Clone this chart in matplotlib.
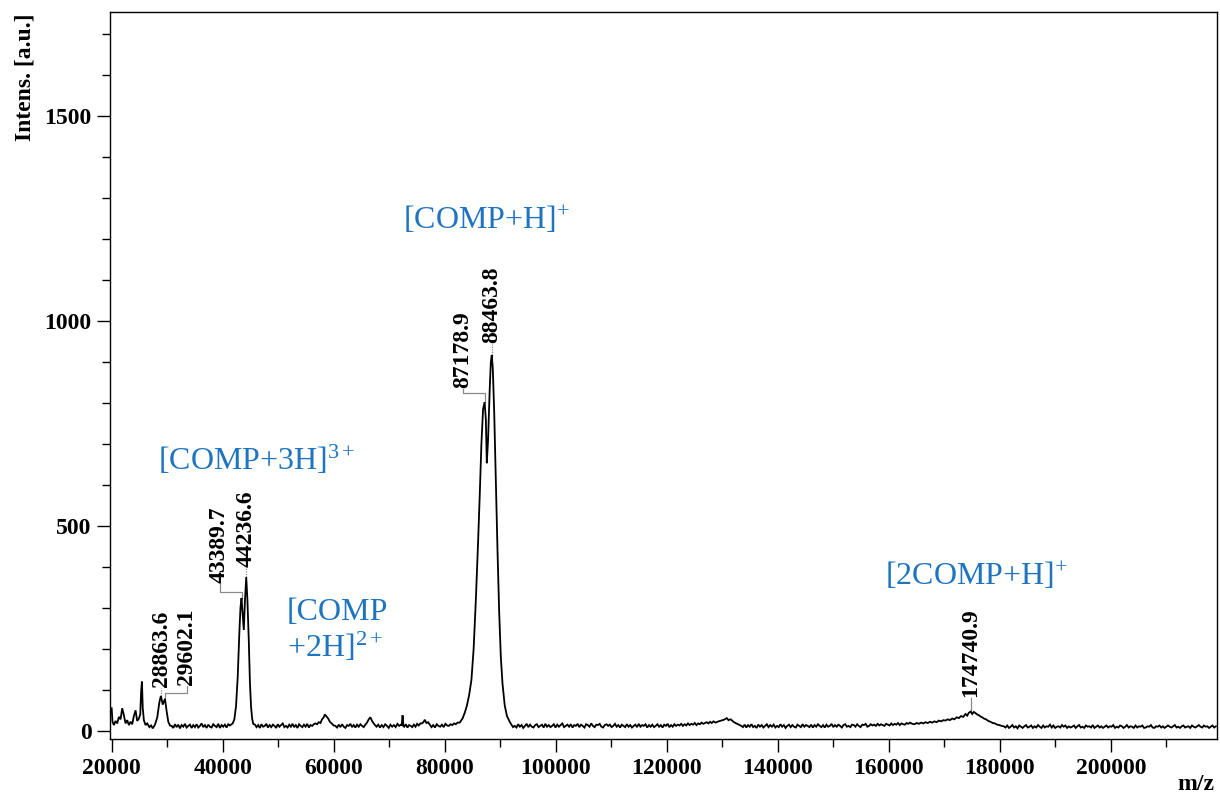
import matplotlib
matplotlib.use('Agg')
import matplotlib.pyplot as plt
from matplotlib.ticker import MultipleLocator
import numpy as np

plt.rcParams['font.family'] = ['Liberation Serif', 'DejaVu Serif']
plt.rcParams['mathtext.fontset'] = 'custom'
plt.rcParams['mathtext.rm'] = 'Liberation Serif'
plt.rcParams['mathtext.it'] = 'Liberation Serif:italic'
plt.rcParams['mathtext.bf'] = 'Liberation Serif:bold'

# ---- spectrum ----
# explicit (m/z, intensity) points around features
spec_low = [
    (20000, 55), (20150, 22), (20400, 14), (20700, 24), (21000, 18), (21300, 34),
    (21600, 28), (21900, 55), (22200, 38), (22500, 18), (22800, 26), (23100, 14),
    (23400, 22), (23700, 16), (24000, 36), (24300, 50), (24600, 24), (24900, 30),
    (25150, 40), (25300, 95), (25450, 120), (25600, 55), (25800, 26), (26100, 14),
    (26400, 18), (26800, 9), (27100, 13), (27400, 6), (27800, 15), (28200, 32),
    (28600, 70), (28864, 85), (29200, 64), (29602, 78), (29900, 48), (30200, 22),
    (30500, 13),
]
spec_3h = [
    (41500, 15), (41800, 18), (42100, 28), (42400, 60), (42700, 130), (43000, 240),
    (43200, 300), (43390, 324), (43600, 285), (43800, 246), (44000, 315), (44237, 375),
    (44450, 320), (44700, 220), (44900, 120), (45100, 60), (45300, 30), (45500, 17),
]
spec_b58 = [(57000, 16), (57300, 21), (57600, 19), (57900, 28), (58200, 33), (58400, 40),
            (58700, 35), (59000, 30), (59300, 22), (59600, 18), (60000, 13)]
spec_b66 = [(66000, 20), (66300, 28), (66600, 33), (66900, 24), (67300, 16)]
spec_s72 = [(72250, 14), (72400, 38), (72550, 12)]
spec_b76 = [(75900, 18), (76200, 22), (76400, 27), (76700, 19), (77000, 21)]
spec_1h = [
    (82700, 20), (83200, 30), (83600, 44), (84000, 62), (84400, 88), (84800, 124),
    (85200, 200), (85600, 320), (86000, 460), (86300, 575), (86600, 700), (86900, 785),
    (87179, 802), (87400, 760), (87570, 653), (87800, 710), (88100, 835), (88300, 900),
    (88464, 917), (88650, 885), (88900, 780), (89200, 610), (89500, 440), (89800, 290),
    (90100, 180), (90400, 115), (90800, 62), (91200, 36), (91700, 22),
]
spec_b131 = [(128800, 20), (129300, 23), (129800, 25), (130300, 27), (130800, 31),
             (131100, 26), (131500, 28), (132000, 22), (132500, 18), (133000, 15)]
spec_2comp = [
    (164200, 17), (164600, 16), (165000, 19), (165400, 17), (165800, 20), (166200, 18),
    (166600, 21), (167000, 19), (167400, 22), (167800, 20), (168200, 23), (168600, 21),
    (169000, 25), (169400, 23), (169800, 26), (170200, 25), (170600, 28), (171000, 26),
    (171400, 30), (171800, 28), (172200, 33), (172600, 31), (173000, 36), (173400, 34),
    (173800, 41), (174100, 37), (174400, 44), (174741, 47), (175000, 41), (175300, 46),
    (175600, 43), (175900, 40), (176200, 38), (176500, 35), (176800, 33), (177100, 30),
    (177500, 28), (177900, 24), (178300, 22), (178700, 19), (179100, 18), (179500, 15),
    (179900, 14), (180300, 12),
]

# baseline noise segments: (first m/z, last m/z, intensities on the sampling grid)
noise_31k = (30800, 41300, [12, 7, 16, 9, 15, 6, 14, 10, 17, 8, 12, 15, 7, 14, 9, 16, 8, 12,
                            18, 9, 14, 7, 15, 10, 8, 16, 12, 9, 17, 7, 14, 10, 15, 8, 16, 13])
noise_46k = (45800, 56700, [15, 9, 14, 7, 16, 10, 12, 17, 8, 14, 9, 15, 12, 7, 16, 10, 14, 18,
                            9, 12, 8, 15, 10, 17, 9, 14, 7, 16, 12, 9, 15, 10, 17, 8, 14, 12,
                            16, 18])
noise_60k = (60300, 65700, [12, 8, 15, 9, 16, 10, 7, 14, 12, 17, 9, 14, 8, 15, 10, 16, 12, 9, 15])
noise_68k = (67700, 72100, [10, 15, 8, 14, 9, 16, 12, 7, 15, 10, 14, 9, 17, 12, 15])
noise_73k = (72700, 75600, [10, 16, 8, 14, 12, 9, 15, 10, 17, 13, 18])
noise_77k = (77300, 82300, [15, 9, 14, 8, 16, 12, 10, 15, 9, 17, 13, 12, 16, 14, 18, 16, 20])
noise_92k = (92000, 128400, [
    15, 9, 12, 8, 16, 10, 14, 7, 12, 17, 9, 15, 10, 8, 14, 16, 9, 12, 15, 8,
    17, 10, 14, 9, 12, 16, 8, 15, 10, 14, 18, 9, 12, 15, 10, 16, 8, 14, 12, 17,
    9, 15, 12, 8, 16, 14, 10, 18, 12, 9, 15, 14, 17, 10, 8, 14, 16, 12, 15, 9,
    12, 17, 10, 14, 8, 15, 12, 9, 16, 10, 14, 8, 12, 15, 9, 17, 10, 14, 12, 16,
    8, 14, 10, 15, 9, 12, 16, 10, 14, 8, 15, 12, 17, 9, 14, 10, 16, 12, 15, 13,
    17, 12, 16, 13, 18, 14, 17, 15, 19, 14, 18, 16, 20, 17, 19, 21, 18, 22, 19, 23])
noise_133k = (133400, 163800, [
    12, 9, 15, 8, 14, 10, 16, 9, 12, 7, 15, 10, 14, 8, 12, 16, 9, 14, 10, 15,
    8, 12, 9, 16, 10, 14, 7, 12, 15, 9, 14, 10, 8, 15, 12, 9, 16, 10, 14, 12,
    9, 15, 8, 14, 10, 16, 12, 9, 14, 8, 15, 10, 12, 17, 9, 14, 10, 15, 12, 8,
    14, 16, 10, 12, 9, 15, 14, 10, 16, 12, 9, 15, 14, 17, 10, 12, 16, 13, 15, 12,
    17, 13, 16, 14, 12, 17, 15, 13, 18, 14, 17, 15, 19, 14, 18, 16, 15, 19, 17, 20])
noise_181k = (180700, 218900, [
    11, 8, 13, 7, 10, 14, 8, 11, 6, 13, 10, 7, 11, 14, 8, 10, 13, 7, 11, 8,
    14, 10, 7, 13, 8, 11, 10, 15, 8, 13, 7, 10, 11, 8, 14, 10, 13, 7, 11, 8,
    10, 13, 7, 11, 14, 8, 10, 7, 13, 10, 11, 8, 14, 7, 10, 13, 8, 11, 7, 10,
    13, 8, 11, 10, 14, 7, 10, 8, 13, 11, 7, 10, 14, 8, 11, 10, 7, 13, 8, 11,
    10, 13, 7, 8, 11, 10, 14, 8, 7, 11, 10, 13, 8, 11, 7, 10, 13, 10, 8, 11,
    14, 8, 10, 7, 11, 13, 8, 10, 11, 7, 13, 10, 8, 11, 14, 10, 8, 13, 10, 11,
    7, 10, 13, 8, 11])

# ---- labelled peaks ----
peak_mz = [28863.6, 29602.1, 43389.7, 44236.6, 87178.9, 88463.8, 174740.9]
peak_int = [85, 78, 324, 375, 802, 917, 47]

# ---- ion annotations ----
ion_text = ['[COMP+3H]$^{3+}$', '[COMP\n+2H]$^{2+}$', '[COMP+H]$^{+}$', '[2COMP+H]$^{+}$']
ion_mz = [28290, 51530, 72430, 159280]
ion_int = [661, 244, 1246, 376]

x_ticks = [20000, 40000, 60000, 80000, 100000, 120000, 140000, 160000, 180000, 200000]
y_ticks = [0, 500, 1000, 1500]

# ---------------------------------------------------------------
def seg_points(seg):
    lo, hi, vals = seg
    return list(zip(np.linspace(lo, hi, len(vals)), vals))

points = (spec_low + seg_points(noise_31k) + spec_3h + seg_points(noise_46k) + spec_b58
          + seg_points(noise_60k) + spec_b66 + seg_points(noise_68k) + spec_s72
          + seg_points(noise_73k) + spec_b76 + seg_points(noise_77k) + spec_1h
          + seg_points(noise_92k) + spec_b131 + seg_points(noise_133k) + spec_2comp
          + seg_points(noise_181k))
points.sort(key=lambda p: p[0])
xs = [p[0] for p in points]
ys = [p[1] for p in points]

W, H, DPI = 1220, 797, 100
fig = plt.figure(figsize=(W / DPI, H / DPI), dpi=DPI)
ax = fig.add_axes([110 / W, 1 - 739 / H, (1217 - 110) / W, (739 - 12) / H])

ax.plot(xs, ys, color='black', lw=1.3, solid_joinstyle='miter')

ax.set_xlim(19700, 219100)
ax.set_ylim(-20, 1754)
ax.set_xticks(x_ticks)
ax.set_yticks(y_ticks)
ax.xaxis.set_minor_locator(MultipleLocator(10000))
ax.yaxis.set_minor_locator(MultipleLocator(100))
ax.tick_params(which='major', direction='out', length=9.4, width=1.0,
               labelsize=17, pad=4)
ax.tick_params(which='minor', direction='out', length=5.5, width=1.0)
for lab in ax.get_xticklabels() + ax.get_yticklabels():
    lab.set_fontweight('bold')
for s in ax.spines.values():
    s.set_linewidth(1.0)
    s.set_color('black')

fig.text(25 / W, 1 - 77 / H, 'Intens. [a.u.]', rotation=90, ha='center', va='center',
         fontsize=17, fontweight='bold')
fig.text(1196 / W, 1 - 784 / H, 'm/z', ha='center', va='center',
         fontsize=17, fontweight='bold')

# peak labels with leader lines (offsets in image pixels, y down)
leaders = [
    [(0, 0), (0, -8)],
    [(0, 0), (0, -6), (22, -6), (22, -13)],
    [(0, 0), (0, -6), (-22, -6), (-22, -14)],
    [(0, 0), (0, -9)],
    [(0, 0), (0, -9), (-22, -9), (-22, -13)],
    [(0, 0), (0, -11)],
    [(0, 0), (0, -14)],
]
label_off = [(1, -9), (22, -14), (-22, -15), (0, -10), (-22, -14), (0, -12), (0, -15)]
dotted = [True, False, False, True, False, True, False]

fig.canvas.draw()
inv = ax.transData.inverted()
for mzv, iv, path, loff, dt in zip(peak_mz, peak_int, leaders, label_off, dotted):
    px, py = ax.transData.transform((mzv, iv))
    pts = [inv.transform((px + dx, py - dy)) for dx, dy in path]
    ax.plot([p[0] for p in pts], [p[1] for p in pts], color='#8a8a8a', lw=0.9,
            ls=(0, (1, 1)) if dt else '-', zorder=1)
    tx, ty = inv.transform((px + loff[0], py - loff[1]))
    ax.text(tx, ty, f'{mzv:.1f}', rotation=90, ha='center', va='bottom',
            fontsize=17, fontweight='bold', color='black')

for t, xm, yi in zip(ion_text, ion_mz, ion_int):
    ax.text(xm, yi, t, ha='left', va='center', fontsize=23, color='#1F74BF',
            linespacing=1.15)

fig.savefig('out.png', dpi=DPI)
